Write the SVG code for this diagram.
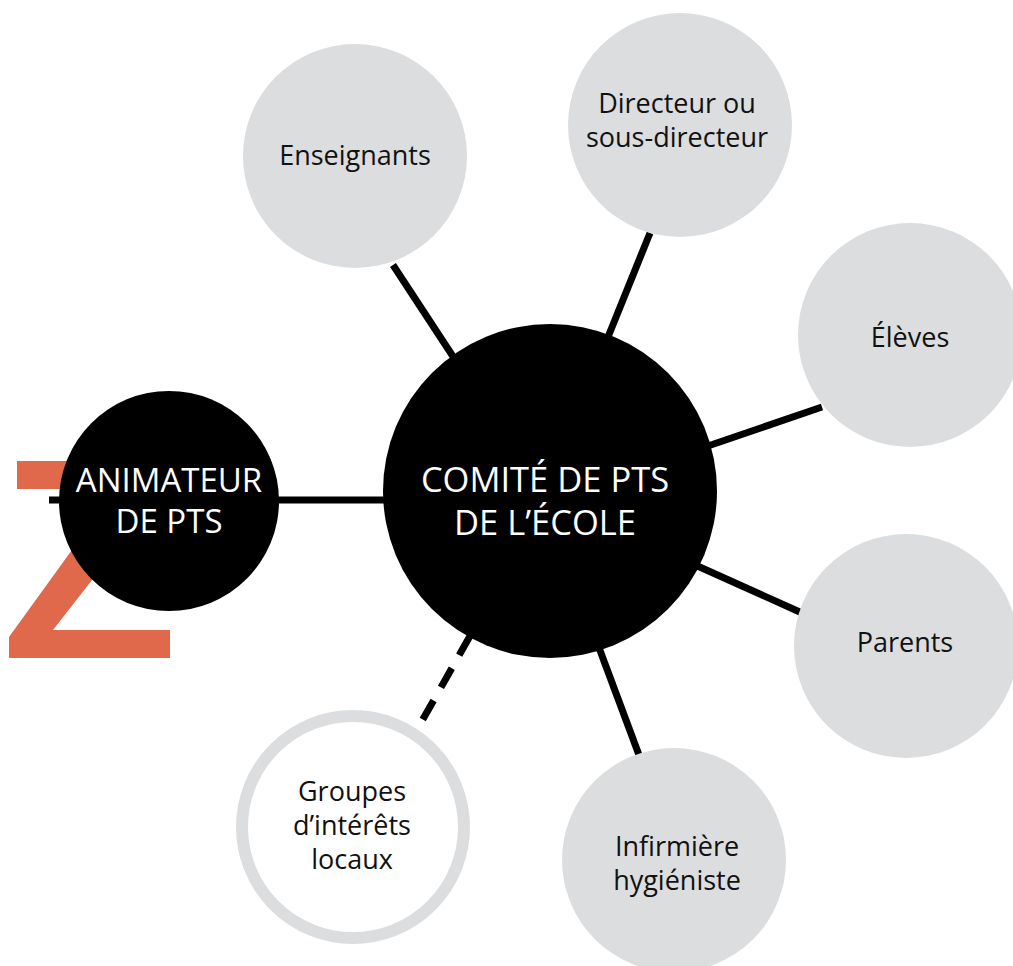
<svg xmlns="http://www.w3.org/2000/svg" width="1013" height="966" viewBox="0 0 1013 966">
<style>
.sat{fill:#dcdddf}
.ring{fill:#ffffff;stroke:#dcdddf;stroke-width:12}
.hub{fill:#000000}
.lbl{font-family:"Open Sans","Noto Sans","Liberation Sans",sans-serif;font-size:27px;fill:#111111;text-anchor:middle}
.hubl{font-family:"Open Sans","Noto Sans","Liberation Sans",sans-serif;fill:#ffffff;text-anchor:middle}
.con{stroke:#000000;stroke-width:7;fill:none}
</style>
<rect width="1013" height="966" fill="#ffffff"/>
<path id="deco" d="M17,461 H185 L53,630 H170 V658 H9 V637 L116,489 H17 Z" fill="#e1694b"/>
<g id="connectors">
<line class="con" x1="49" y1="500" x2="390" y2="500" stroke-width="6"/>
<line class="con" x1="393" y1="265" x2="454" y2="358" stroke-width="8"/>
<line class="con" x1="650" y1="233" x2="606" y2="342"/>
<line class="con" x1="705" y1="447" x2="822" y2="407"/>
<line class="con" x1="693" y1="564" x2="802" y2="613"/>
<line class="con" x1="598" y1="645" x2="639" y2="755"/>
<line class="con" x1="470" y1="636" x2="418" y2="728" stroke-dasharray="22 15"/>
</g>
<g id="animateur">
<circle class="hub" cx="169" cy="501" r="110"/>
<text class="hubl" font-size="33" x="169" y="492">ANIMATEUR</text>
<text class="hubl" font-size="33" x="169" y="533">DE PTS</text>
</g>
<g id="comite">
<circle class="hub" cx="550" cy="491" r="167"/>
<text class="hubl" font-size="34.5" x="545" y="492">COMITÉ DE PTS</text>
<text class="hubl" font-size="34.5" x="545" y="535">DE L’ÉCOLE</text>
</g>
<g id="enseignants">
<circle class="sat" cx="355" cy="156" r="112"/>
<text class="lbl" x="355" y="165">Enseignants</text>
</g>
<g id="directeur">
<circle class="sat" cx="680" cy="125" r="112"/>
<text class="lbl" x="677" y="113">Directeur ou</text>
<text class="lbl" x="677" y="147">sous-directeur</text>
</g>
<g id="eleves">
<circle class="sat" cx="910" cy="335" r="112"/>
<text class="lbl" x="910" y="347">Élèves</text>
</g>
<g id="parents">
<circle class="sat" cx="906" cy="646" r="112"/>
<text class="lbl" x="905" y="652">Parents</text>
</g>
<g id="infirmiere">
<circle class="sat" cx="674" cy="860" r="112"/>
<text class="lbl" x="677" y="856">Infirmière</text>
<text class="lbl" x="677" y="890">hygiéniste</text>
</g>
<g id="groupes">
<circle class="ring" cx="353" cy="827" r="111"/>
<text class="lbl" x="352" y="801">Groupes</text>
<text class="lbl" x="352" y="835">d’intérêts</text>
<text class="lbl" x="352" y="869">locaux</text>
</g>
</svg>
